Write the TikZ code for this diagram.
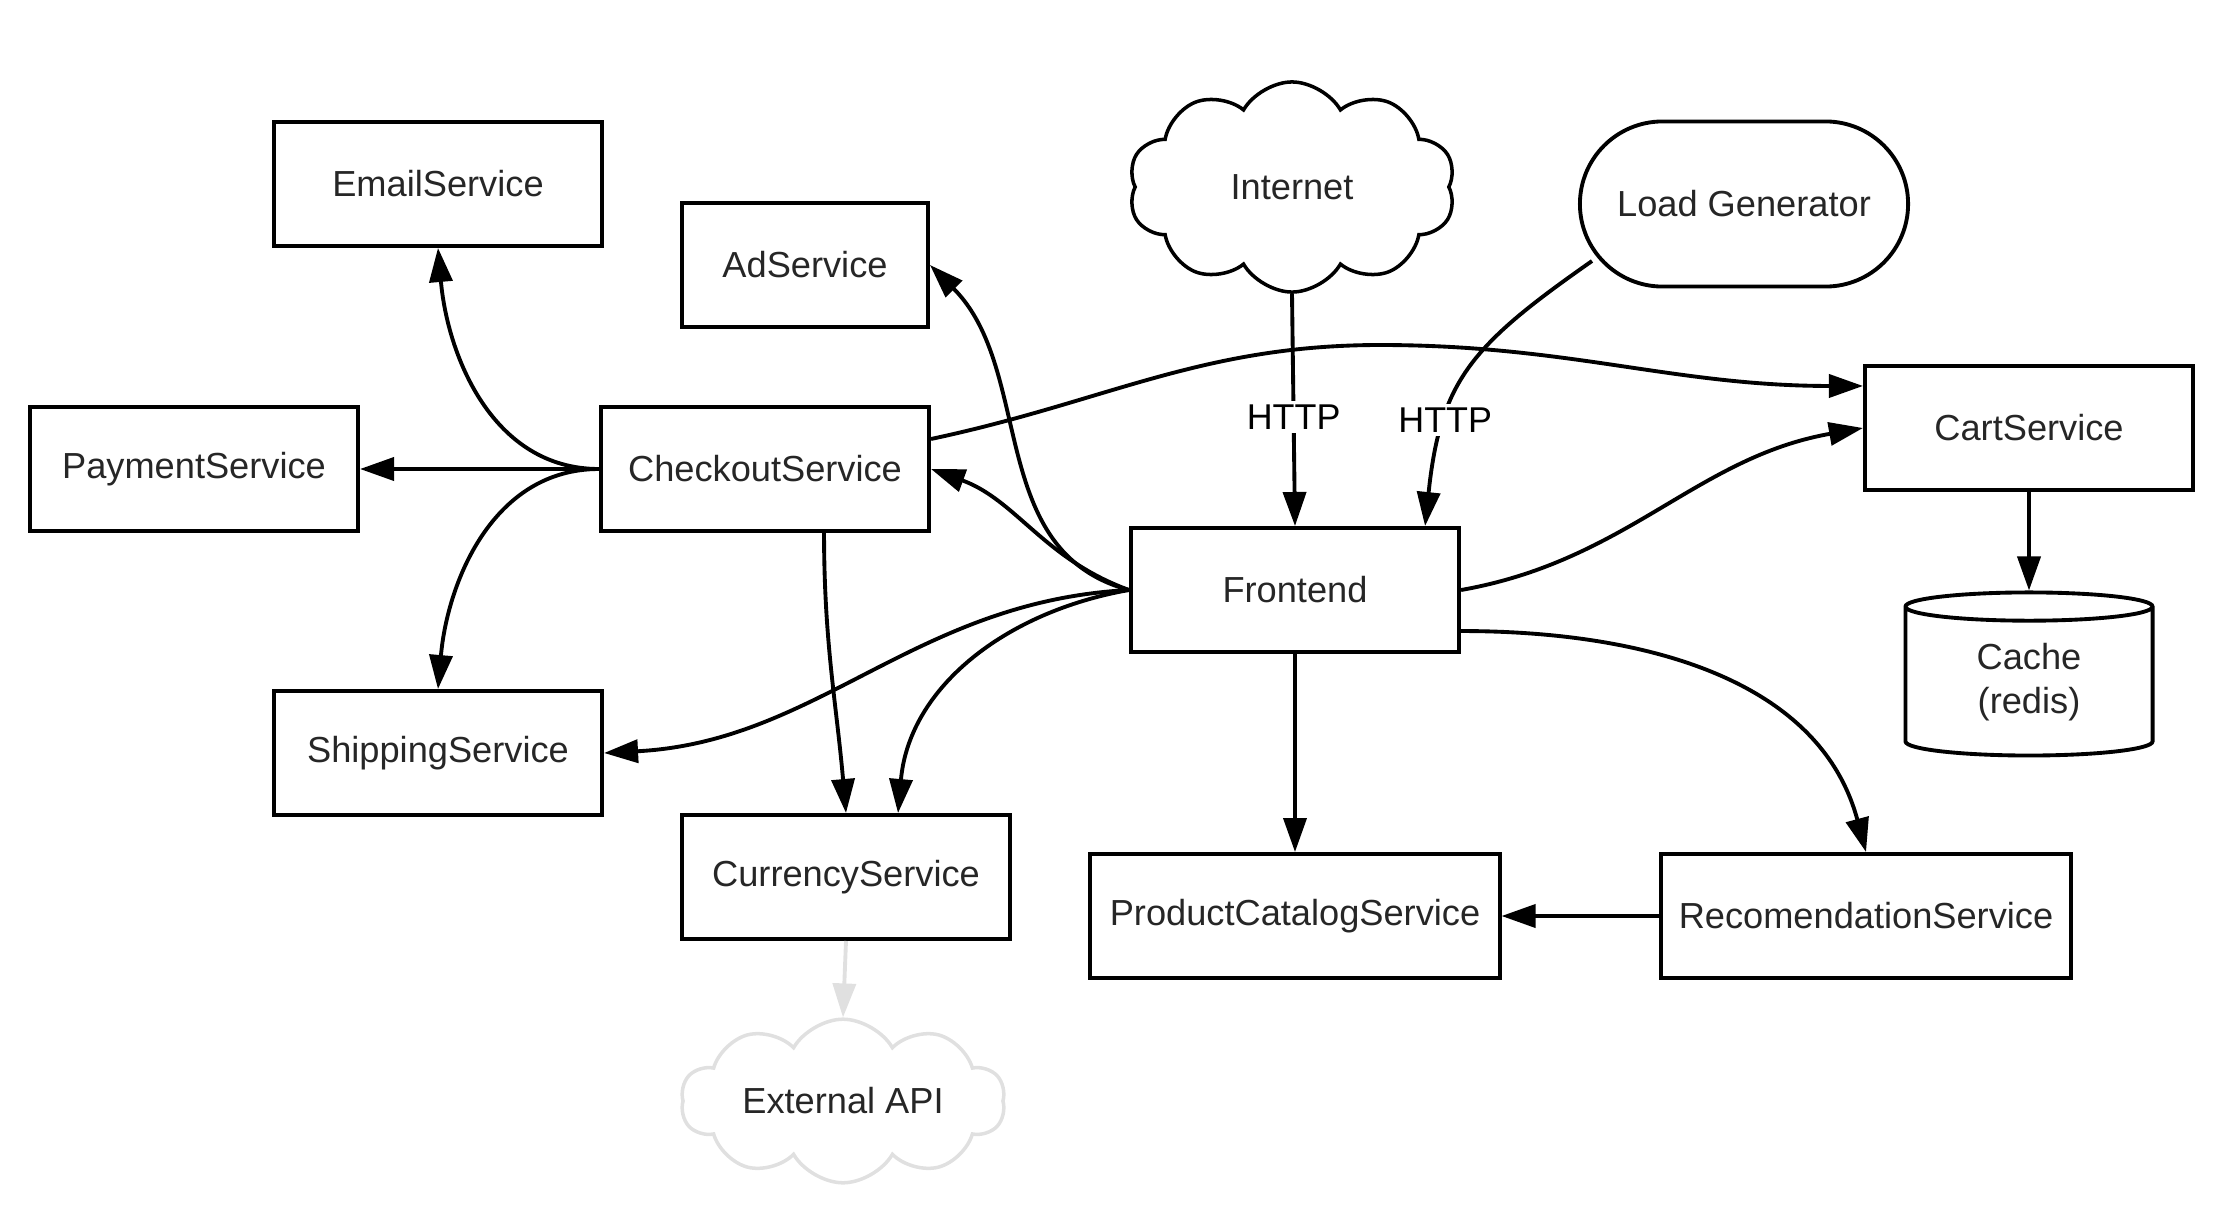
\documentclass[tikz,border=0pt]{standalone}
\usepackage{fontspec}
\setmainfont{Liberation Sans}
\usetikzlibrary{arrows.meta,shapes.geometric,shapes.symbols,shapes.misc}
\begin{document}
\begin{tikzpicture}[x=0.01cm, y=-0.01cm,
    svc/.style={draw, line width=1.1pt, minimum width=3.28cm, minimum height=1.24cm,
        inner sep=0pt, align=center, text=black!85, font=\fontsize{10.3}{12.5}\selectfont},
    wide/.style={svc, minimum width=4.09cm},
    puff/.style={svc, cloud, cloud puffs=10, cloud puff arc=120, line width=1pt},
    arr/.style={-{Triangle[length=0.34cm, width=0.23cm]}, line width=1.1pt},
    http/.style={fill=white, inner sep=1pt, text=black, font=\fontsize{10.2}{12}\selectfont}]
    \useasboundingbox (0,0) rectangle (2236,1230);

    % Services left of the frontend
    \node[svc] (email) at (438,184) {EmailService};
    \node[svc, minimum width=2.46cm] (ad) at (805,265) {AdService};
    \node[svc] (payment) at (194,469) {PaymentService};
    \node[svc] (checkout) at (765,469) {CheckoutService};
    \node[svc] (shipping) at (438,753) {ShippingService};
    \node[svc] (currency) at (846,877) {CurrencyService};

    % Frontend and the services right of it
    \node[svc] (frontend) at (1295,590) {Frontend};
    \node[wide] (catalog) at (1295,916) {ProductCatalogService};
    \node[wide] (recommend) at (1866,916) {RecomendationService};
    \node[svc] (cart) at (2029,428) {CartService};
    \node[svc, cylinder, shape border rotate=90, aspect=0.27,
        minimum width=2.47cm, minimum height=1.63cm] (cache) at (2029,682) {Cache\\(redis)};

    % Traffic sources
    \node[puff, aspect=1.6, minimum width=3.27cm, minimum height=2.1cm] (internet) at (1292,187) {Internet};
    \node[svc, rounded rectangle, minimum height=1.65cm] (loadgen) at (1744,204) {Load Generator};

    % External dependency
    \node[puff, aspect=2.4, draw=black!12, minimum width=3.24cm, minimum height=1.5cm] (extapi) at (843,1101) {External API};

    % Checkout calls
    \draw[arr] (checkout.west) -- (payment.east);
    \draw[arr] (checkout.west) to[out=180,in=-85] (email.south);
    \draw[arr] (checkout.west) to[out=180,in=85] (shipping.north);
    \draw[arr] ([xshift=0.59cm]checkout.south) to[out=-90,in=95] (currency.north);
    \draw[arr] ([yshift=0.3cm]checkout.east) to[out=12,in=180] (1380,345)
        to[out=0,in=180] ([yshift=0.42cm]cart.west);

    % Frontend calls
    \draw[arr] (frontend.west) to[out=165,in=-45] (ad.east);
    \draw[arr] (frontend.west) to[out=160,in=-20] (checkout.east);
    \draw[arr] (frontend.west) to[out=183,in=3] (shipping.east);
    \draw[arr] (frontend.west) to[out=190,in=85] ([xshift=0.52cm]currency.north);
    \draw[arr] (frontend.east) to[out=10,in=190] (cart.west);
    \draw[arr] ([yshift=-0.41cm]frontend.east) to[out=0,in=105] (recommend.north);
    \draw[arr] (frontend.south) -- (catalog.north);
    \draw[arr] (recommend.west) -- (catalog.east);
    \draw[arr] (cart.south) -- (cache.north);

    % Incoming HTTP
    \draw[arr] (internet.south) -- node[http, pos=0.53] {HTTP} (frontend.north);
    \draw[arr] ([shift={(-152,57)}]loadgen.center) to[out=-145,in=84,looseness=1.2]
        node[http, pos=0.7] {HTTP} ([xshift=1.3cm]frontend.north);

    % Currency lookups
    \draw[arr, color=black!12] (currency.south) -- (extapi.north);
\end{tikzpicture}
\end{document}
